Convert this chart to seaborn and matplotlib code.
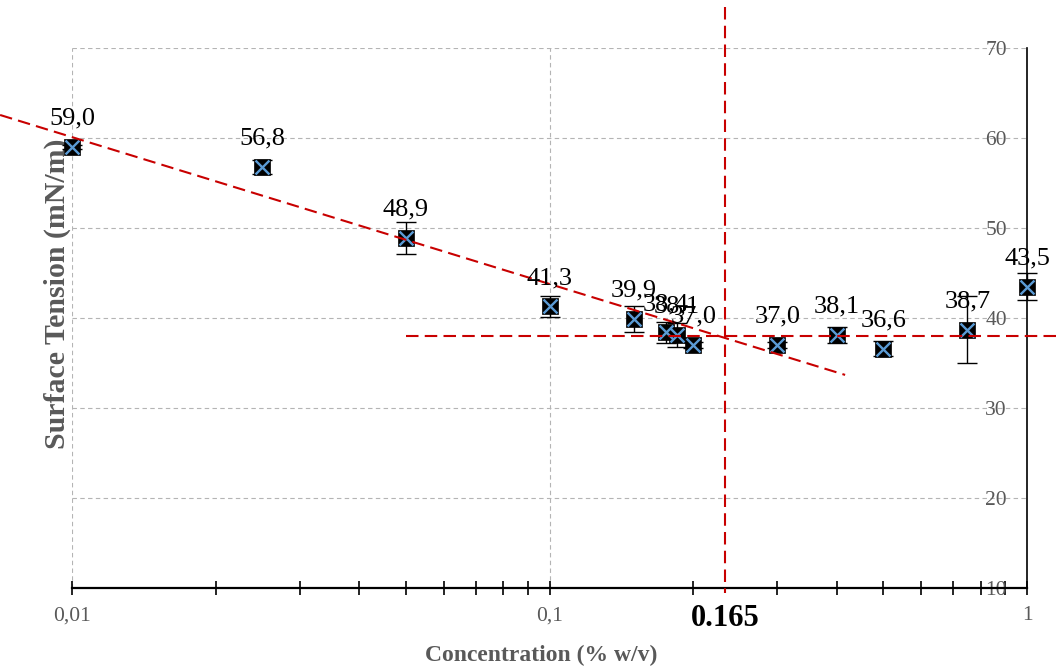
import matplotlib
matplotlib.use("Agg")
import matplotlib.pyplot as plt
from matplotlib.ticker import FixedLocator, FixedFormatter, LogLocator, NullFormatter
import numpy as np
import pandas as pd
import seaborn as sns

# Measured surface tension vs. surfactant concentration
concentration = [0.01, 0.025, 0.05, 0.1, 0.15, 0.175, 0.185, 0.2, 0.3, 0.4, 0.5, 0.75, 1.0]
surface_tension = [59.0, 56.8, 48.9, 41.3, 39.9, 38.4, 38.1, 37.0, 37.0, 38.1, 36.6, 38.7, 43.5]
tension_sd = [0.2, 0.8, 1.8, 1.2, 1.4, 1.2, 1.3, 0.3, 0.3, 0.9, 0.8, 3.7, 1.5]

x_ticks = [0.01, 0.1, 1]
x_tick_labels = ["0,01", "0,1", "1"]
y_ticks = [10, 20, 30, 40, 50, 60, 70]

# Log-linear trend of the descending branch: y = intercept + slope * log10(x)
fit_intercept = 27.46
fit_slope = -16.32
fit_x_range = [0.00707, 0.416]

# Plateau level above the CMC
plateau_level = 38.0
plateau_x_range = [0.05, 1.167]

# CMC marker line and its label
cmc_line_x = 0.2335
cmc_y_range = [74.6, 9.5]
cmc_label = "0.165"

sns.set_theme(style="white")
plt.rcParams["font.family"] = ["Liberation Serif", "DejaVu Serif"]

TICK_GREY = "#595959"
RED = "#C80000"
MARKER_BLUE = "#5B9BD5"

fig = plt.figure(figsize=(10.59, 6.7), dpi=100)
ax = fig.add_axes([72 / 1059, 1 - 588 / 670, 955 / 1059, 540 / 670])

df = pd.DataFrame({"conc": concentration, "tension": surface_tension, "sd": tension_sd})

# error bars
eb = ax.errorbar(df["conc"], df["tension"], yerr=df["sd"], fmt="none",
                 ecolor="black", elinewidth=1.0, capsize=7, capthick=1.0, zorder=3)
for art in list(eb.lines[1]) + list(eb.lines[2]):
    art.set_clip_on(False)

# square markers with a blue cross
sns.scatterplot(data=df, x="conc", y="tension", marker="s", s=125, color="black",
                edgecolor="black", linewidth=0.5, ax=ax, zorder=4, clip_on=False, legend=False)
sns.scatterplot(data=df, x="conc", y="tension", marker="x", s=100, color=MARKER_BLUE,
                linewidth=1.7, ax=ax, zorder=5, clip_on=False, legend=False)

# value labels
for xv, yv in zip(concentration, surface_tension):
    ax.annotate(f"{yv:.1f}".replace(".", ","), (xv, yv), xytext=(0, 16),
                textcoords="offset points", ha="center", va="baseline",
                fontsize=19, color="black", annotation_clip=False, zorder=7)

# trend lines
fx = np.array(fit_x_range)
ax.plot(fx, fit_intercept + fit_slope * np.log10(fx), color=RED, lw=1.5,
        dashes=(6, 3), clip_on=False, zorder=6)
ax.plot(plateau_x_range, [plateau_level, plateau_level], color=RED, lw=1.5,
        dashes=(6, 3), clip_on=False, zorder=6)
ax.plot([cmc_line_x, cmc_line_x], cmc_y_range, color=RED, lw=1.5,
        dashes=(6, 3), clip_on=False, zorder=6)
ax.text(cmc_line_x, -0.056, cmc_label, transform=ax.get_xaxis_transform(),
        ha="center", va="center", fontsize=22, fontweight="bold", color="black")

# axes
ax.set_xscale("log")
ax.set_xlim(0.01, 1)
ax.set_ylim(10, 70)
ax.xaxis.set_major_locator(FixedLocator(x_ticks))
ax.xaxis.set_major_formatter(FixedFormatter(x_tick_labels))
ax.xaxis.set_minor_locator(LogLocator(base=10, subs=np.arange(2, 10)))
ax.xaxis.set_minor_formatter(NullFormatter())
ax.tick_params(axis="x", which="both", direction="inout", length=10, width=1.2,
               color="black", labelcolor=TICK_GREY, labelsize=15.5, pad=8, bottom=True)

ax.yaxis.tick_right()
ax.set_yticks(y_ticks)
ax.tick_params(axis="y", which="both", length=0, labelsize=15.5, labelcolor=TICK_GREY, pad=-30)

ax.grid(True, which="major", axis="both", color="#B4B4B4", linestyle=(0, (4, 3)), linewidth=0.8)
ax.set_axisbelow(True)

for side in ("left", "top"):
    ax.spines[side].set_visible(False)
ax.spines["bottom"].set_color("black")
ax.spines["bottom"].set_linewidth(1.6)
ax.spines["right"].set_color("black")
ax.spines["right"].set_linewidth(1.2)

ax.set_xlabel("Concentration (% w/v)", fontsize=17, fontweight="bold", color=TICK_GREY)
ax.xaxis.set_label_coords(0.491, -0.105)
ax.set_ylabel("Surface Tension (mN/m)", fontsize=21.5, fontweight="bold", color=TICK_GREY)
ax.yaxis.set_label_position("left")
ax.yaxis.set_label_coords(-0.001, 0.544)

fig.savefig("out.png", dpi=100)
